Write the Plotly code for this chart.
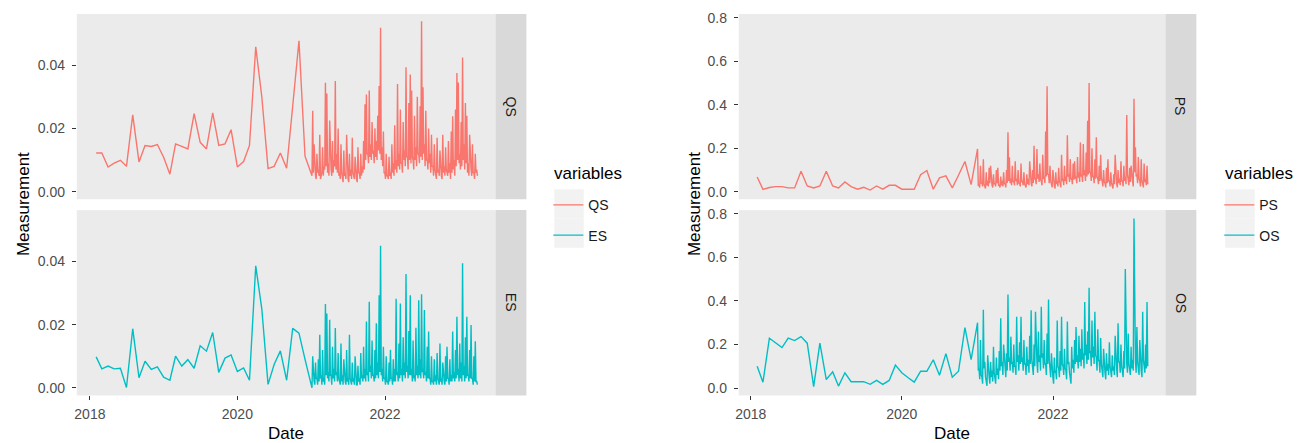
import pandas as pd
import plotly.graph_objects as go

W, H = 1311, 443

# ---------------- data ----------------
monthly_start = "2018-02-01"
monthly_end = "2020-12-01"
weekly_start = "2021-01-01"

qs_monthly = [0.0122, 0.0122, 0.0078, 0.0090, 0.0099, 0.0080, 0.0243, 0.0094, 0.0146, 0.0143, 0.0149,
              0.0109, 0.0055, 0.0151, 0.0143, 0.0135, 0.0247, 0.0156, 0.0135, 0.0249, 0.0146, 0.0151, 0.0196,
              0.0078, 0.0095, 0.0146, 0.0458, 0.0300, 0.0073, 0.0080, 0.0122, 0.0074, 0.0270, 0.0477, 0.0112]
qs_weekly_high = [0.0060, 0.0256, 0.0150, 0.0050, 0.0120, 0.0070, 0.0180, 0.0060, 0.0140, 0.0080, 0.0344, 0.0310,
                  0.0090, 0.0225, 0.0070, 0.0160, 0.0100, 0.0350, 0.0120, 0.0200, 0.0060, 0.0150, 0.0050, 0.0130,
                  0.0060, 0.0180, 0.0040, 0.0120, 0.0070, 0.0170, 0.0050, 0.0110, 0.0040, 0.0140, 0.0060, 0.0120,
                  0.0080, 0.0160, 0.0276, 0.0307, 0.0120, 0.0320, 0.0150, 0.0220, 0.0130, 0.0200, 0.0160, 0.0240,
                  0.0334, 0.0518, 0.0140, 0.0190, 0.0060, 0.0120, 0.0050, 0.0110, 0.0060, 0.0150, 0.0090, 0.0210,
                  0.0100, 0.0340, 0.0120, 0.0260, 0.0090, 0.0220, 0.0130, 0.0393, 0.0110, 0.0280, 0.0370, 0.0320,
                  0.0100, 0.0240, 0.0140, 0.0300, 0.0120, 0.0270, 0.0539, 0.0330, 0.0150, 0.0256, 0.0100, 0.0200,
                  0.0120, 0.0180, 0.0080, 0.0150, 0.0060, 0.0170, 0.0070, 0.0130, 0.0050, 0.0180, 0.0080, 0.0140,
                  0.0060, 0.0160, 0.0090, 0.0190, 0.0238, 0.0100, 0.0260, 0.0375, 0.0345, 0.0120, 0.0220, 0.0424,
                  0.0150, 0.0280, 0.0240, 0.0090, 0.0180, 0.0070, 0.0150, 0.0060, 0.0120, 0.0070]
qs_weekly_low = [0.005, 0.006, 0.005, 0.004, 0.006, 0.005, 0.004, 0.006, 0.005, 0.007, 0.008, 0.006,
                 0.005, 0.007, 0.005, 0.006, 0.008, 0.007, 0.006, 0.005, 0.004, 0.006, 0.003, 0.005,
                 0.004, 0.006, 0.003, 0.005, 0.004, 0.006, 0.004, 0.005, 0.003, 0.006, 0.004, 0.005,
                 0.006, 0.007, 0.010, 0.012, 0.009, 0.011, 0.010, 0.012, 0.009, 0.011, 0.010, 0.013,
                 0.012, 0.010, 0.008, 0.006, 0.004, 0.005, 0.004, 0.005, 0.004, 0.006, 0.005, 0.007,
                 0.006, 0.008, 0.007, 0.009, 0.006, 0.010, 0.008, 0.011, 0.007, 0.010, 0.009, 0.011,
                 0.007, 0.010, 0.008, 0.012, 0.009, 0.011, 0.010, 0.012, 0.008, 0.010, 0.007, 0.009,
                 0.006, 0.008, 0.005, 0.007, 0.004, 0.006, 0.005, 0.007, 0.004, 0.006, 0.005, 0.007,
                 0.005, 0.006, 0.004, 0.006, 0.007, 0.005, 0.008, 0.010, 0.009, 0.007, 0.008, 0.010,
                 0.007, 0.009, 0.006, 0.005, 0.007, 0.005, 0.006, 0.004, 0.006, 0.005]

es_monthly = [0.0098, 0.0060, 0.0069, 0.0060, 0.0062, 0.0001, 0.0187, 0.0032, 0.0084, 0.0058, 0.0066,
              0.0034, 0.0024, 0.0100, 0.0069, 0.0089, 0.0062, 0.0133, 0.0116, 0.0175, 0.0049, 0.0094, 0.0104,
              0.0052, 0.0063, 0.0024, 0.0386, 0.0250, 0.0011, 0.0074, 0.0117, 0.0024, 0.0188, 0.0173, 0.0090]
es_weekly_high = [0.0010, 0.0100, 0.0020, 0.0080, 0.0030, 0.0090, 0.0168, 0.0040, 0.0120, 0.0030, 0.0265, 0.0235,
                  0.0050, 0.0215, 0.0040, 0.0130, 0.0060, 0.0189, 0.0050, 0.0110, 0.0020, 0.0140, 0.0040, 0.0090,
                  0.0020, 0.0120, 0.0030, 0.0168, 0.0020, 0.0080, 0.0030, 0.0100, 0.0010, 0.0070, 0.0030, 0.0110,
                  0.0040, 0.0130, 0.0060, 0.0210, 0.0050, 0.0272, 0.0070, 0.0150, 0.0040, 0.0120, 0.0204, 0.0080,
                  0.0293, 0.0449, 0.0060, 0.0130, 0.0030, 0.0100, 0.0020, 0.0080, 0.0120, 0.0030, 0.0090, 0.0060,
                  0.0282, 0.0050, 0.0140, 0.0267, 0.0060, 0.0160, 0.0080, 0.0360, 0.0070, 0.0180, 0.0293, 0.0060,
                  0.0150, 0.0040, 0.0190, 0.0070, 0.0277, 0.0090, 0.0296, 0.0060, 0.0246, 0.0050, 0.0130, 0.0178,
                  0.0030, 0.0100, 0.0020, 0.0090, 0.0040, 0.0110, 0.0020, 0.0140, 0.0030, 0.0080, 0.0020, 0.0100,
                  0.0130, 0.0030, 0.0090, 0.0040, 0.0178, 0.0050, 0.0120, 0.0225, 0.0060, 0.0140, 0.0080, 0.0394,
                  0.0070, 0.0160, 0.0225, 0.0040, 0.0120, 0.0199, 0.0030, 0.0100, 0.0147, 0.0020]
es_weekly_low = [0.000, 0.002, 0.001, 0.003, 0.001, 0.002, 0.003, 0.001, 0.002, 0.001, 0.004, 0.003,
                 0.002, 0.004, 0.001, 0.003, 0.002, 0.004, 0.002, 0.003, 0.001, 0.002, 0.001, 0.003,
                 0.001, 0.002, 0.001, 0.003, 0.001, 0.002, 0.001, 0.002, 0.001, 0.002, 0.001, 0.003,
                 0.002, 0.003, 0.002, 0.004, 0.002, 0.005, 0.003, 0.004, 0.002, 0.003, 0.004, 0.003,
                 0.005, 0.004, 0.002, 0.003, 0.001, 0.002, 0.001, 0.002, 0.003, 0.001, 0.002, 0.002,
                 0.004, 0.002, 0.003, 0.004, 0.002, 0.004, 0.003, 0.005, 0.003, 0.004, 0.004, 0.002,
                 0.003, 0.002, 0.004, 0.003, 0.004, 0.003, 0.005, 0.003, 0.004, 0.002, 0.003, 0.003,
                 0.001, 0.002, 0.001, 0.002, 0.001, 0.003, 0.001, 0.002, 0.001, 0.002, 0.001, 0.002,
                 0.003, 0.001, 0.002, 0.002, 0.003, 0.002, 0.003, 0.004, 0.002, 0.003, 0.002, 0.004,
                 0.002, 0.003, 0.004, 0.002, 0.003, 0.003, 0.001, 0.002, 0.002, 0.001]

ps_monthly = [0.068, 0.011, 0.020, 0.024, 0.024, 0.018, 0.018, 0.094, 0.027, 0.018, 0.027,
              0.094, 0.027, 0.018, 0.045, 0.024, 0.012, 0.021, 0.008, 0.027, 0.012, 0.030, 0.030,
              0.012, 0.012, 0.012, 0.079, 0.098, 0.012, 0.064, 0.073, 0.018, 0.076, 0.139, 0.033]
ps_weekly_high = [0.197, 0.030, 0.120, 0.040, 0.150, 0.020, 0.090, 0.050, 0.110, 0.120, 0.030, 0.080,
                  0.040, 0.100, 0.110, 0.030, 0.070, 0.050, 0.090, 0.040, 0.100, 0.273, 0.159, 0.060,
                  0.120, 0.050, 0.140, 0.060, 0.100, 0.040, 0.130, 0.050, 0.090, 0.030, 0.080, 0.060,
                  0.140, 0.040, 0.100, 0.212, 0.060, 0.197, 0.080, 0.130, 0.050, 0.170, 0.070, 0.277,
                  0.485, 0.080, 0.120, 0.040, 0.100, 0.030, 0.090, 0.050, 0.110, 0.040, 0.170, 0.060,
                  0.120, 0.070, 0.260, 0.080, 0.150, 0.060, 0.130, 0.140, 0.070, 0.160, 0.090, 0.227,
                  0.080, 0.220, 0.100, 0.180, 0.326, 0.500, 0.090, 0.200, 0.070, 0.150, 0.250, 0.060,
                  0.120, 0.170, 0.050, 0.100, 0.040, 0.110, 0.150, 0.050, 0.090, 0.030, 0.080, 0.170,
                  0.040, 0.100, 0.060, 0.140, 0.050, 0.120, 0.070, 0.353, 0.060, 0.110, 0.120, 0.050,
                  0.427, 0.205, 0.080, 0.160, 0.050, 0.150, 0.040, 0.130, 0.060, 0.120]
ps_weekly_low = [0.030, 0.020, 0.040, 0.025, 0.035, 0.015, 0.030, 0.025, 0.040, 0.030, 0.020, 0.035,
                 0.025, 0.040, 0.030, 0.020, 0.030, 0.025, 0.035, 0.020, 0.040, 0.050, 0.040, 0.030,
                 0.045, 0.030, 0.050, 0.030, 0.040, 0.025, 0.045, 0.030, 0.035, 0.020, 0.035, 0.030,
                 0.050, 0.025, 0.040, 0.060, 0.035, 0.060, 0.045, 0.055, 0.030, 0.060, 0.040, 0.070,
                 0.080, 0.040, 0.050, 0.020, 0.040, 0.015, 0.035, 0.025, 0.045, 0.020, 0.050, 0.030,
                 0.050, 0.035, 0.070, 0.045, 0.060, 0.035, 0.055, 0.060, 0.040, 0.065, 0.045, 0.070,
                 0.045, 0.075, 0.050, 0.070, 0.080, 0.090, 0.050, 0.070, 0.040, 0.060, 0.070, 0.035,
                 0.050, 0.060, 0.025, 0.045, 0.020, 0.040, 0.050, 0.025, 0.040, 0.015, 0.035, 0.050,
                 0.020, 0.040, 0.030, 0.050, 0.025, 0.050, 0.035, 0.080, 0.030, 0.045, 0.050, 0.025,
                 0.090, 0.070, 0.040, 0.060, 0.025, 0.050, 0.020, 0.045, 0.030, 0.035]

os_monthly = [0.100, 0.027, 0.229, 0.206, 0.186, 0.229, 0.218, 0.236, 0.206, 0.006, 0.206,
              0.039, 0.074, 0.009, 0.070, 0.029, 0.029, 0.029, 0.017, 0.035, 0.017, 0.035, 0.105,
              0.070, 0.047, 0.027, 0.077, 0.077, 0.130, 0.059, 0.158, 0.050, 0.077, 0.277, 0.130]
os_weekly_high = [0.300, 0.090, 0.220, 0.050, 0.360, 0.120, 0.030, 0.150, 0.050, 0.120, 0.080, 0.190,
                  0.040, 0.140, 0.090, 0.170, 0.320, 0.120, 0.200, 0.100, 0.160, 0.430, 0.140, 0.236,
                  0.120, 0.200, 0.100, 0.327, 0.150, 0.210, 0.327, 0.140, 0.220, 0.110, 0.190, 0.130,
                  0.240, 0.357, 0.100, 0.200, 0.350, 0.120, 0.260, 0.150, 0.373, 0.160, 0.220, 0.110,
                  0.250, 0.406, 0.100, 0.160, 0.050, 0.140, 0.080, 0.310, 0.090, 0.170, 0.327, 0.100,
                  0.180, 0.080, 0.305, 0.120, 0.050, 0.190, 0.130, 0.220, 0.280, 0.150, 0.240, 0.180,
                  0.270, 0.160, 0.395, 0.200, 0.260, 0.460, 0.170, 0.310, 0.190, 0.350, 0.140, 0.270,
                  0.120, 0.230, 0.090, 0.180, 0.070, 0.160, 0.110, 0.210, 0.080, 0.150, 0.100, 0.240,
                  0.090, 0.297, 0.120, 0.200, 0.080, 0.170, 0.547, 0.110, 0.250, 0.090, 0.190, 0.130,
                  0.779, 0.120, 0.280, 0.100, 0.220, 0.080, 0.350, 0.110, 0.200, 0.395]
os_weekly_low = [0.080, 0.040, 0.060, 0.020, 0.090, 0.050, 0.010, 0.060, 0.020, 0.050, 0.030, 0.070,
                 0.020, 0.060, 0.040, 0.080, 0.100, 0.060, 0.100, 0.050, 0.080, 0.120, 0.080, 0.110,
                 0.070, 0.100, 0.060, 0.120, 0.080, 0.110, 0.120, 0.080, 0.110, 0.060, 0.100, 0.070,
                 0.110, 0.130, 0.060, 0.100, 0.130, 0.070, 0.120, 0.080, 0.140, 0.090, 0.110, 0.060,
                 0.110, 0.130, 0.050, 0.080, 0.020, 0.070, 0.040, 0.100, 0.050, 0.080, 0.110, 0.060,
                 0.090, 0.040, 0.110, 0.070, 0.020, 0.090, 0.070, 0.110, 0.120, 0.090, 0.120, 0.100,
                 0.130, 0.090, 0.150, 0.110, 0.130, 0.160, 0.100, 0.140, 0.110, 0.150, 0.080, 0.130,
                 0.070, 0.110, 0.050, 0.090, 0.040, 0.080, 0.060, 0.100, 0.050, 0.080, 0.060, 0.110,
                 0.050, 0.120, 0.070, 0.100, 0.050, 0.090, 0.150, 0.070, 0.110, 0.060, 0.090, 0.080,
                 0.180, 0.070, 0.120, 0.060, 0.100, 0.050, 0.130, 0.070, 0.090, 0.100]

x_tick_vals = ["2018-01-01", "2020-01-01", "2022-01-01"]
x_tick_text = ["2018", "2020", "2022"]
left_y_ticks = [0.0, 0.02, 0.04]
right_y_ticks = [0.0, 0.2, 0.4, 0.6, 0.8]

RED = "#F8766D"
TEAL = "#00BFC4"


def series(monthly, highs, lows):
    d1 = list(pd.date_range(monthly_start, monthly_end, freq="MS"))
    n = len(highs)
    d_hi = pd.date_range(weekly_start, periods=n, freq="7D")
    d_lo = d_hi + pd.Timedelta(hours=84)
    xs, ys = list(d1), list(monthly)
    for dh, h, dl, lo in zip(d_hi, highs, d_lo, lows):
        xs += [dh, dl]
        ys += [h, lo]
    return xs, ys


FONT = "Liberation Sans, Arial, sans-serif"


def px_x(p):
    return p / W


def px_y(p):
    return 1 - p / H


fig = go.Figure()

specs = [
    ("QS", qs_monthly, qs_weekly_high, qs_weekly_low, RED, "x", "y", "legend"),
    ("ES", es_monthly, es_weekly_high, es_weekly_low, TEAL, "x2", "y2", "legend"),
    ("PS", ps_monthly, ps_weekly_high, ps_weekly_low, RED, "x3", "y3", "legend2"),
    ("OS", os_monthly, os_weekly_high, os_weekly_low, TEAL, "x4", "y4", "legend2"),
]
for name, m, hi, lo, col, xa, ya, lg in specs:
    xs, ys = series(m, hi, lo)
    fig.add_trace(go.Scatter(x=xs, y=ys, mode="lines", name=name,
                             line=dict(color=col, width=1.4),
                             xaxis=xa, yaxis=ya, legend=lg, legendgroup=name,
                             hoverinfo="skip"))

# panel geometry (pixels)
LX0, LX1, LS1 = 73, 493, 524
RX0, RX1, RS1 = 737, 1165, 1196
TY0, TY1 = 10, 197
BY0, BY1 = 208, 395

top_dom = [px_y(TY1), px_y(TY0)]
bot_dom = [px_y(BY1), px_y(BY0)]

tickfont = dict(family=FONT, size=14, color="#4D4D4D")

common_x = dict(type="date", showgrid=False, zeroline=False, showline=False,
                tickvals=x_tick_vals, ticktext=x_tick_text, tickfont=tickfont,
                ticks="outside", ticklen=4, tickcolor="#333333", tickwidth=1,
                ticklabelstandoff=2)
common_y = dict(showgrid=False, zeroline=False, showline=False, tickfont=tickfont,
                ticks="outside", ticklen=4, tickcolor="#333333", tickwidth=1,
                ticklabelstandoff=4)

left_xrange = ["2017-10-28", "2023-07-02"]
right_xrange = ["2017-11-04", "2023-06-28"]
left_yrange = [-0.0024, 0.0562]
right_yrange = [-0.034, 0.817]

fig.update_layout(
    xaxis=dict(common_x, domain=[px_x(LX0), px_x(LX1)], range=left_xrange, anchor="y",
               showticklabels=False, ticks=""),
    yaxis=dict(common_y, domain=top_dom, range=left_yrange, anchor="x",
               tickvals=left_y_ticks, tickformat=".2f"),
    xaxis2=dict(common_x, domain=[px_x(LX0), px_x(LX1)], range=left_xrange, anchor="y2"),
    yaxis2=dict(common_y, domain=bot_dom, range=left_yrange, anchor="x2",
                tickvals=left_y_ticks, tickformat=".2f"),
    xaxis3=dict(common_x, domain=[px_x(RX0), px_x(RX1)], range=right_xrange, anchor="y3",
                showticklabels=False, ticks=""),
    yaxis3=dict(common_y, domain=top_dom, range=right_yrange, anchor="x3",
                tickvals=right_y_ticks, tickformat=".1f"),
    xaxis4=dict(common_x, domain=[px_x(RX0), px_x(RX1)], range=right_xrange, anchor="y4"),
    yaxis4=dict(common_y, domain=bot_dom, range=right_yrange, anchor="x4",
                tickvals=right_y_ticks, tickformat=".1f"),
)

# strips
shapes = []
annotations = []
for sx0, sx1, labels in [(LX1, LS1, ["QS", "ES"]), (RX1, RS1, ["PS", "OS"])]:
    for (y0, y1), lab in zip([(TY0, TY1), (BY0, BY1)], labels):
        shapes.append(dict(type="rect", xref="paper", yref="paper",
                           x0=px_x(sx0), x1=px_x(sx1), y0=px_y(y1), y1=px_y(y0),
                           fillcolor="#D9D9D9", line=dict(width=0), layer="below"))
        annotations.append(dict(text=lab, xref="paper", yref="paper",
                                x=px_x((sx0 + sx1) / 2), y=px_y((y0 + y1) / 2),
                                showarrow=False, textangle=90,
                                font=dict(family=FONT, size=14, color="#1A1A1A"),
                                xanchor="center", yanchor="middle"))

# axis titles
for xc in [283, 951]:
    annotations.append(dict(text="Date", xref="paper", yref="paper", x=px_x(xc), y=px_y(433),
                            showarrow=False, font=dict(family=FONT, size=17, color="black"),
                            xanchor="center", yanchor="middle"))
for xc in [19, 692]:
    annotations.append(dict(text="Measurement", xref="paper", yref="paper", x=px_x(xc),
                            y=px_y(202), showarrow=False, textangle=-90,
                            font=dict(family=FONT, size=17, color="black"),
                            xanchor="center", yanchor="middle"))

# legend titles and key backgrounds
for kx in [550, 1223]:
    annotations.append(dict(text="variables", xref="paper", yref="paper", x=px_x(kx),
                            y=px_y(171), showarrow=False,
                            font=dict(family=FONT, size=17, color="black"),
                            xanchor="left", yanchor="middle"))
for kx in [552, 1225]:
    for ky in [187, 216.5]:
        shapes.append(dict(type="rect", xref="paper", yref="paper",
                           x0=px_x(kx), x1=px_x(kx + 29.5), y0=px_y(ky + 29.5), y1=px_y(ky),
                           fillcolor="#F2F2F2", line=dict(width=0), layer="below"))

legend_common = dict(bgcolor="rgba(0,0,0,0)", borderwidth=0, xanchor="left", yanchor="top",
                     font=dict(family=FONT, size=14, color="#1A1A1A"),
                     traceorder="grouped", tracegroupgap=9, itemwidth=30)

fig.update_layout(
    width=W, height=H,
    margin=dict(l=0, r=0, t=0, b=0),
    paper_bgcolor="white",
    plot_bgcolor="#EBEBEB",
    showlegend=True,
    legend=dict(legend_common, x=px_x(546), y=px_y(187)),
    legend2=dict(legend_common, x=px_x(1219), y=px_y(187)),
    shapes=shapes,
    annotations=annotations,
    font=dict(family=FONT),
)

fig.write_html("out.html", config={"displayModeBar": False},
               post_script="document.body.style.margin='0px';document.body.style.overflow='hidden';")
